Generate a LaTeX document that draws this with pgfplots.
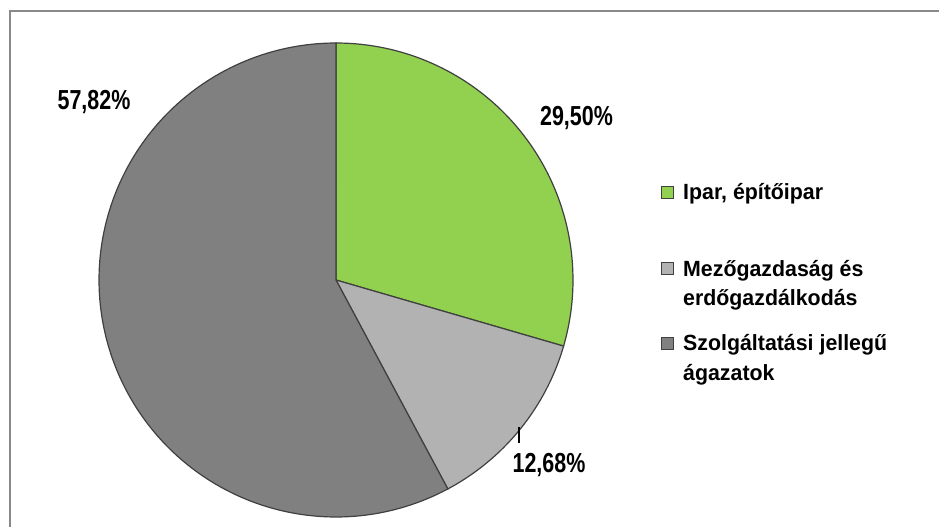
\documentclass[border=0pt]{standalone}
\usepackage{pgfplots}
\pgfplotsset{compat=1.18}
\usepackage{fontspec}
\setmainfont{Liberation Sans}
\newfontfamily\legfont[FakeStretch=0.97]{Liberation Sans}
\newfontfamily\labfont[FakeStretch=0.78]{Liberation Sans}
\definecolor{pgreen}{HTML}{92D050}
\definecolor{plight}{HTML}{B2B2B2}
\definecolor{pdark}{HTML}{808080}
\definecolor{edgec}{HTML}{404040}
\definecolor{framec}{HTML}{898989}
% values (percent)
\def\vA{29.50}
\def\vB{12.68}
\def\vC{57.82}
\pgfmathsetmacro{\sA}{90}
\pgfmathsetmacro{\eA}{\sA-3.6*\vA}
\pgfmathsetmacro{\eB}{\eA-3.6*\vB}
\pgfmathsetmacro{\eC}{\eB-3.6*\vC}
\def\cx{336}
\def\cy{247}
\def\R{237}
\begin{document}
\begin{tikzpicture}
\begin{axis}[
  width=939pt, height=527pt, scale only axis,
  xmin=0, xmax=939, ymin=0, ymax=527,
  hide axis, clip=false,
]
\path (axis cs:0,0) (axis cs:939,527);
\begin{scope}
\clip (axis cs:0,0) rectangle (axis cs:939,527);
\draw[framec, line width=2pt] (axis cs:10,-5) -- (axis cs:10,516) -- (axis cs:945,516);
\end{scope}
\addplot[fill=pgreen, draw=edgec, line width=1.2pt, domain=0:1, samples=80]
  ({\cx+\R*cos(\sA+(\eA-\sA)*x)}, {\cy+\R*sin(\sA+(\eA-\sA)*x)}) -- (axis cs:\cx,\cy) -- cycle;
\addplot[fill=plight, draw=edgec, line width=1.2pt, domain=0:1, samples=50]
  ({\cx+\R*cos(\eA+(\eB-\eA)*x)}, {\cy+\R*sin(\eA+(\eB-\eA)*x)}) -- (axis cs:\cx,\cy) -- cycle;
\addplot[fill=pdark, draw=edgec, line width=1.2pt, domain=0:1, samples=150]
  ({\cx+\R*cos(\eB+(\eC-\eB)*x)}, {\cy+\R*sin(\eB+(\eC-\eB)*x)}) -- (axis cs:\cx,\cy) -- cycle;
% data labels
\begin{scope}[every node/.style={anchor=base, inner sep=0pt, font=\labfont\bfseries\fontsize{27.5}{32}\selectfont}]
\node at (axis cs:576.5,401) {29,50\%};
\node at (axis cs:549,54) {12,68\%};
\node at (axis cs:94,417) {57,82\%};
\end{scope}
\draw[black, line width=1.2pt] (axis cs:519,100) -- (axis cs:519,84);
% legend
\draw[fill=pgreen, draw=edgec, line width=0.8pt] (axis cs:661,329) rectangle (axis cs:673,341);
\draw[fill=plight, draw=edgec, line width=0.8pt] (axis cs:661,253) rectangle (axis cs:673,265);
\draw[fill=pdark, draw=edgec, line width=0.8pt] (axis cs:661,178) rectangle (axis cs:673,190);
\begin{scope}[every node/.style={anchor=base west, inner sep=0pt, font=\legfont\bfseries\fontsize{22}{26}\selectfont}]
\node at (axis cs:683,327.5) {Ipar, építőipar};
\node at (axis cs:683,250.5) {Mezőgazdaság és};
\node at (axis cs:683,221.5) {erdőgazdálkodás};
\node at (axis cs:683,176) {Szolgáltatási jellegű};
\node at (axis cs:683,146.5) {ágazatok};
\end{scope}
\end{axis}
\end{tikzpicture}
\end{document}
